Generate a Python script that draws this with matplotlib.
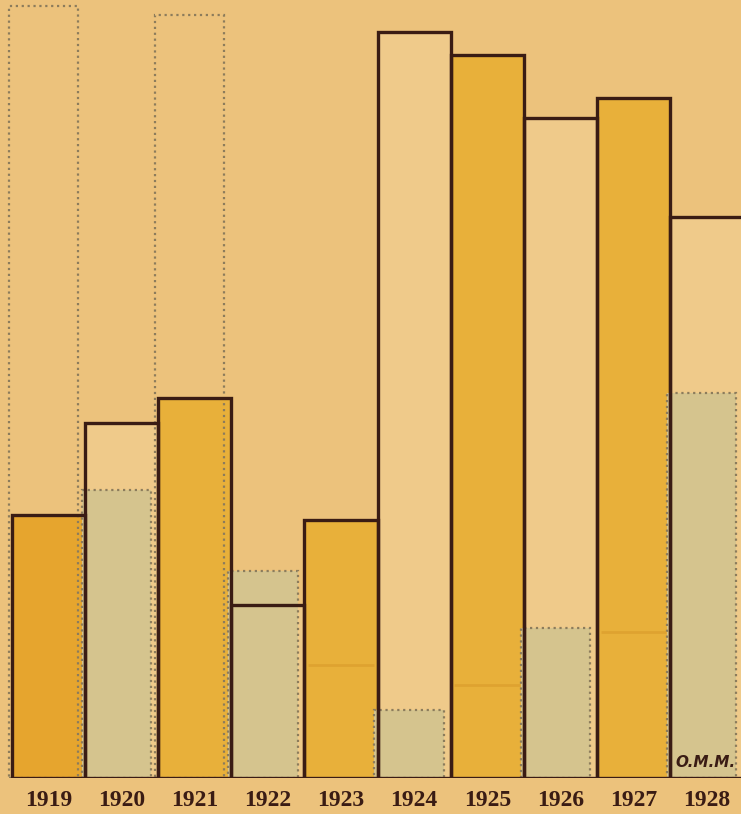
import numpy as np
import matplotlib.pyplot as plt

# values (arbitrary units, no scale printed)
years = ["1919", "1920", "1921", "1922", "1923", "1924", "1925", "1926", "1927", "1928"]
solid_vals = [33.8, 45.6, 48.8, 22.2, 33.2, 95.9, 92.9, 84.8, 87.4, 72.1]
dotted_vals = [99.2, 37.0, 98.1, 26.6, 14.5, 8.7, 12.0, 19.3, 18.8, 49.5]

bg = "#ecc27c"
yellow = "#e8b03a"
orange = "#e6a52e"
cream = "#efca8a"
greygreen = "#d5c48e"
dark = "#3a1c14"
dotted_col = "#8c7c5c"

x = np.arange(len(years))
odd = np.array([int(y) % 2 == 1 for y in years])
solid = np.array(solid_vals)
dotted = np.array(dotted_vals)

fig = plt.figure(figsize=(7.41, 8.14), dpi=100, facecolor=bg)
ax = fig.add_axes([0, 0.0442, 1, 0.9558])
ax.set_facecolor(bg)

off, wd = -0.07, 0.95

# dotted bars of the odd years that rise above the solid bars
tall = odd & (dotted > solid)
ax.bar(x[tall] + off, dotted[tall], width=wd, color="none", edgecolor=dotted_col,
       linestyle=":", linewidth=1.6, zorder=3)

# solid bar fills
fills = [orange if y == "1919" else (yellow if o else cream) for y, o in zip(years, odd)]
ax.bar(x, solid, width=1.0, color=fills, edgecolor="none", zorder=2)

# dotted bars of the even years, filled grey-green
ax.bar(x[~odd] + off, dotted[~odd], width=wd, color=greygreen, edgecolor=dotted_col,
       linestyle=":", linewidth=1.6, zorder=3)

# faint level mark of the dotted series inside the yellow bars
for xi, d, s in zip(x[odd], dotted[odd], solid[odd]):
    if d < s:
        ax.hlines(d, xi - 0.45, xi + 0.45, color="#d99a2a", linewidth=2, alpha=0.6, zorder=3)

# solid outlines on top
ax.bar(x, solid, width=1.0, color="none", edgecolor=dark, linewidth=2.4, zorder=4)

ax.set_xlim(-0.664, 9.47)
ax.set_ylim(0, 100)
ax.axis("off")

for xi, y in zip(x, years):
    ax.text(xi, -2.9, y, ha="center", va="center", fontsize=17, fontweight="bold",
            family="Liberation Serif", color=dark, clip_on=False)

ax.text(8.98, 1.0, "O.M.M.", ha="center", va="bottom", fontsize=11, fontweight="bold",
        style="italic", color=dark, zorder=5)

fig.savefig("out.png", dpi=100, facecolor=bg)
